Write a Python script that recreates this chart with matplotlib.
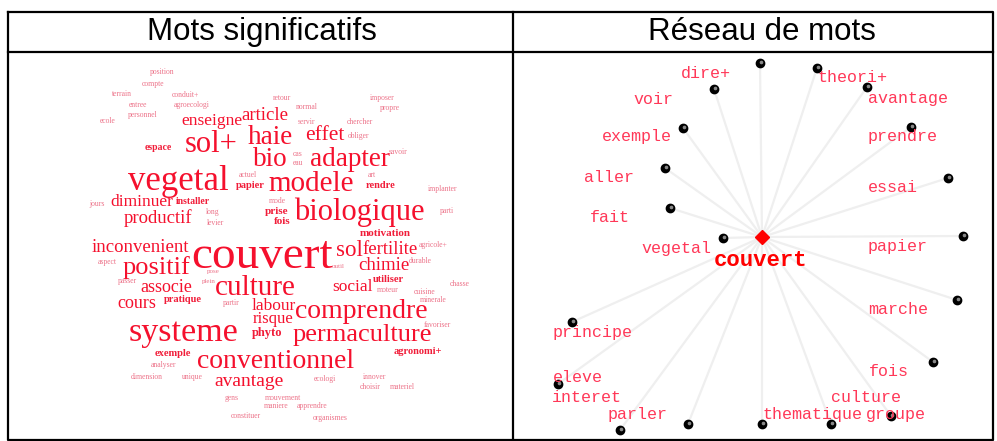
import matplotlib
matplotlib.use("Agg")
import matplotlib.pyplot as plt

# ---- données : nuage de mots (mot, poids = taille de police) ----
cloud_words = [
    "position", "compte", "terrain", "conduit+", "entree", "agroecologi", "personnel", "ecole",
    "retour", "normal", "servir", "chercher", "obliger", "imposer", "propre", "savoir",
    "cas", "eau", "actuel", "art", "implanter", "mode", "long", "levier", "jours", "parti",
    "outil", "agricole+", "durable", "moteur", "chasse", "cuisine", "minerale", "aspect",
    "pose", "plein", "passer", "partir", "favoriser", "analyser", "dimension", "unique",
    "ecologi", "innover", "choisir", "materiel", "gens", "mouvement", "maniere", "apprendre",
    "constituer", "organismes",
    "espace", "papier", "rendre", "installer", "prise", "fois", "motivation", "utiliser",
    "pratique", "exemple", "agronomi+", "phyto",
    "article", "enseigne", "haie", "sol+", "bio", "vegetal", "effet", "adapter", "modele",
    "biologique", "diminuer", "productif", "inconvenient", "couvert", "positif", "associe",
    "culture", "sol", "fertilite", "chimie", "social", "cours", "labour", "risque",
    "comprendre", "permaculture", "systeme", "conventionnel", "avantage",
]
cloud_weight = [
    5.5, 5.5, 5.5, 5.5, 5.5, 5.5, 5.5, 5.5,
    5.5, 5.5, 5.5, 5.5, 5.5, 5.5, 5.5, 5.5,
    5.5, 5.5, 5.5, 5.5, 5.5, 5.5, 5.5, 5.5, 5.5, 5.5,
    5, 5.5, 5.5, 5.5, 5.5, 5.5, 5.5, 5.5,
    5, 5, 5.5, 5.5, 5.5, 5.5, 5.5, 5.5,
    5.5, 5.5, 5.5, 5.5, 5.5, 5.5, 5.5, 5.5,
    5.5, 5.5,
    7, 7.5, 7.5, 7, 8, 8, 8, 7.5,
    7.5, 7.5, 7.5, 9,
    13.5, 12.5, 19.5, 22, 19.5, 25, 15.5, 19.5, 21,
    22, 12.5, 13.5, 13.5, 34, 19, 13,
    21, 16.5, 13.5, 13.5, 12.5, 13, 12.5, 12,
    20, 19, 24.5, 20, 14,
]

# ---- données : réseau de mots ----
center_word = "couvert"
neighbors = [
    "dire+", "theori+", "avantage", "prendre", "essai", "papier", "marche", "fois",
    "groupe", "culture", "thematique", "parler", "interet", "eleve", "principe",
    "vegetal", "fait", "aller", "exemple", "voir",
]

# ---- mise en page (pixels de la figure) ----
cloud_xy = [
    (162, 72), (153, 84), (122, 94), (185, 95), (138, 105), (192, 105), (143, 115), (108, 121),
    (282, 98), (307, 107), (306, 122), (360, 122), (358, 136), (382, 98), (390, 108), (398, 152),
    (298, 154), (298, 163), (248, 175), (372, 175), (443, 189), (277, 201), (213, 212), (215, 223),
    (97, 204), (447, 211),
    (338, 266), (433, 245), (420, 261), (388, 290), (460, 284), (425, 292), (433, 300), (107, 262),
    (213, 271), (209, 281), (127, 281), (231, 303), (437, 325), (163, 365), (147, 377), (192, 377),
    (325, 379), (375, 377), (370, 387), (402, 387), (232, 398), (283, 398), (276, 406), (312, 406),
    (246, 416), (330, 418),
    (158, 147), (250, 185), (381, 186), (193, 201), (277, 211), (282, 221), (385, 233), (388, 280),
    (183, 299), (173, 354), (418, 352), (267, 333),
    (265, 116), (212, 121), (270, 138), (211, 145), (270, 160), (178, 181), (325, 135), (350, 160),
    (311, 184), (359, 212), (142, 202), (158, 218), (140, 247), (262, 257), (156, 268), (166, 287),
    (255, 288), (349, 250), (390, 250), (384, 265), (352, 287), (137, 304), (274, 306), (273, 319),
    (361, 312), (362, 335), (183, 333), (276, 362), (249, 382),
]
center_xy = (762, 237)
node_xy = [
    (714, 89), (817, 68), (867, 87), (911, 127), (948, 178), (963, 236), (957, 300), (933, 362),
    (891, 416), (831, 424), (762, 424), (688, 424), (620, 430), (558, 384), (572, 322),
    (723, 238), (670, 208), (665, 168), (683, 128), (760, 63),
]
label_xy = [
    (706, 73), (852, 77), (908, 98), (903, 137), (893, 187), (898, 246), (898, 310), (889, 371),
    (896, 414), (866, 398), (812, 414), (638, 414), (587, 398), (578, 378), (593, 332),
    (676, 248), (610, 217), (609, 177), (637, 137), (653, 99),
]

W, H = 997, 441
fig = plt.figure(figsize=(W / 100, H / 100), dpi=100)
ax = fig.add_axes([0, 0, 1, 1])
ax.set_xlim(0, W)
ax.set_ylim(H, 0)
ax.axis("off")

# tableau
lw = 1.6
ax.plot([8, 993, 993, 8, 8], [12, 12, 440, 440, 12], color="black", lw=lw)
ax.plot([8, 993], [52, 52], color="black", lw=lw)
ax.plot([513, 513], [12, 440], color="black", lw=lw)
ax.text(262, 32, "Mots significatifs", ha="center", va="center",
        fontsize=22.5, family="Liberation Sans")
ax.text(762, 32, "Réseau de mots", ha="center", va="center",
        fontsize=22.5, family="Liberation Sans")

# nuage de mots
for w, s, (x, y) in zip(cloud_words, cloud_weight, cloud_xy):
    if s < 6:
        col, weight, alpha = "#e8506c", "normal", 0.8
    elif s < 10:
        col, weight, alpha = "#f0102e", "bold", 0.95
    else:
        col, weight, alpha = "#f5102d", "normal", 1.0
    ax.text(x, y, w, ha="center", va="center", fontsize=s, color=col,
            alpha=alpha, fontweight=weight, family="Liberation Serif")

# réseau
cx, cy = center_xy
for (nx, ny) in node_xy:
    ax.plot([cx, nx], [cy, ny], color="#efefef", lw=1.6, zorder=1)
for (nx, ny) in node_xy:
    ax.plot(nx, ny, "o", color="black", markersize=6, zorder=3)
    ax.plot(nx + 1, ny - 1, "o", color="#888888", markersize=1.6, zorder=4)
ax.plot(cx, cy, "D", color="#ff0000", markersize=7, zorder=4)

for w, (x, y) in zip(neighbors, label_xy):
    ax.text(x, y, w, ha="center", va="center", fontsize=12, color="#ff3858",
            family="Liberation Mono", zorder=5)
ax.text(761, 261, center_word, ha="center", va="center", fontsize=16,
        fontweight="bold", color="#ff0000", family="Liberation Mono", zorder=5)

fig.savefig("out.png", dpi=100)
